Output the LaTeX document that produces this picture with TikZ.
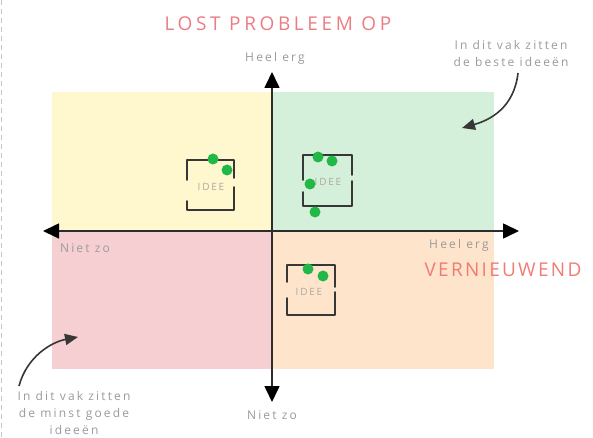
\documentclass[tikz,border=0pt]{standalone}
\usepackage{fontspec}
\setmainfont{Open Sans}
\newfontfamily\bigfont[LetterSpace=19]{Open Sans}
\newfontfamily\verfont[LetterSpace=12]{Open Sans}
\newfontfamily\smallfont[LetterSpace=18]{Open Sans}
\usetikzlibrary{arrows.meta}
\definecolor{qyellow}{RGB}{255,247,206}
\definecolor{qgreen}{RGB}{212,240,218}
\definecolor{qpink}{RGB}{246,207,211}
\definecolor{qorange}{RGB}{253,228,203}
\definecolor{dotgreen}{RGB}{34,184,72}
\definecolor{txtgray}{RGB}{155,155,155}
\definecolor{idgray}{RGB}{175,168,162}
\definecolor{titlered}{RGB}{236,124,132}
\definecolor{verred}{RGB}{240,124,116}
\definecolor{axisgray}{RGB}{45,45,45}
\definecolor{sketchgray}{RGB}{55,55,55}
\tikzset{
  axis/.style={draw=axisgray, line width=1.6pt, {Triangle[length=16pt,width=15pt,color=black]}-{Triangle[length=16pt,width=15pt,color=black]}},
  curvy/.style={draw=sketchgray, line width=1.6pt, -{Triangle[length=13pt,width=11pt]}},
  sketch/.style={draw=sketchgray, line width=1.9pt, line cap=round, line join=round},
  dot/.style={circle, fill=dotgreen, inner sep=0pt, minimum size=11pt},
  bigtxt/.style={font=\bigfont\fontsize{19}{22}\selectfont, inner sep=0pt},
  vertxt/.style={font=\verfont\fontsize{19}{22}\selectfont, inner sep=0pt},
  smalltxt/.style={font=\smallfont\fontsize{12}{17}\selectfont, text=txtgray, inner sep=0pt},
  ideetxt/.style={font=\smallfont\fontsize{10}{12}\selectfont, text=idgray, inner sep=0pt}
}
\begin{document}
\begin{tikzpicture}[x=1pt,y=-1pt]
\useasboundingbox (0,0) rectangle (593,438);
\fill[white] (0,0) rectangle (593,438);
\draw[gray!45, line width=1pt, dash pattern=on 5pt off 4pt] (1,0) -- (1,438);
% quadrants
\fill[qyellow] (52,92) rectangle (272,231);
\fill[qgreen] (272,92) rectangle (494,231);
\fill[qpink] (52,231) rectangle (272,369);
\fill[qorange] (272,231) rectangle (494,369);
% axes
\coordinate (xl) at (43,231);
\coordinate (xr) at (519,231);
\coordinate (yt) at (272,72);
\coordinate (yb) at (272,402);
\draw[axis] (xl) -- (xr);
\draw[axis] (yt) -- (yb);
% texts
\node[bigtxt, text=titlered] (title) at (278,24) {LOST PROBLEEM OP};
\node[smalltxt] (htop) at (275,58) {Heel erg};
\node[smalltxt, align=center] (tr) at (511,54) {In dit vak zitten\\de beste ideeën};
\node[smalltxt] (nzl) at (85,248) {Niet zo};
\node[smalltxt] (hr) at (459,245) {Heel erg};
\node[vertxt, text=verred] (ver) at (503,270) {VERNIEUWEND};
\node[smalltxt] (nzb) at (272,415) {Niet zo};
\node[smalltxt, align=center] (bl) at (74,413) {In dit vak zitten\\de minst goede\\ideeën};
% curved arrows
\coordinate (c1s) at (518,73);
\coordinate (c1e) at (462,128);
\draw[curvy] (c1s) .. controls (514,108) and (490,120) .. (c1e);
\coordinate (c2s) at (19,386);
\coordinate (c2e) at (78,337);
\draw[curvy] (c2s) .. controls (27,356) and (52,342) .. (c2e);
% box 1
\draw[sketch] (187,180) -- (187,160) -- (234,160) -- (234,178);
\draw[sketch] (234,187) -- (234,210) -- (187,210) -- (187,201);
\node[ideetxt] (i1) at (211,187) {IDEE};
\node[dot] (d1) at (213,159) {};
\node[dot] (d2) at (227,170) {};
% box 2
\draw[sketch] (303,180) -- (303,155) -- (352,155) -- (352,175);
\draw[sketch] (352,181) -- (352,206) -- (303,206) -- (303,192);
\node[ideetxt] (i2) at (328,182) {IDEE};
\node[dot] (d3) at (318,157) {};
\node[dot] (d4) at (332,161) {};
\node[dot] (d5) at (310,184) {};
\node[dot] (d6) at (315,212) {};
% box 3
\draw[sketch] (287,282) -- (287,265) -- (335,265) -- (335,287);
\draw[sketch] (335,292) -- (335,315) -- (287,315) -- (287,298);
\node[ideetxt] (i3) at (309,292) {IDEE};
\node[dot] (d7) at (308,269) {};
\node[dot] (d8) at (323,276) {};
\end{tikzpicture}
\end{document}
